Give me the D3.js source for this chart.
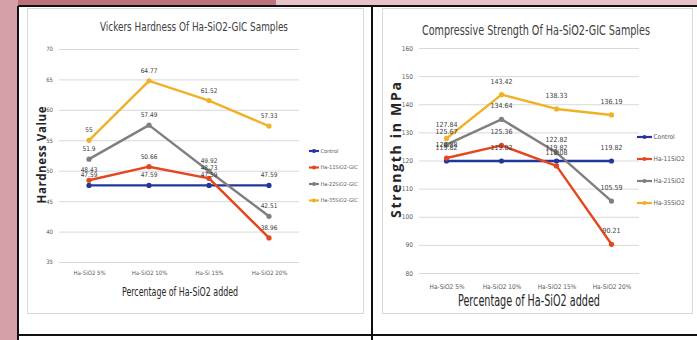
<!DOCTYPE html>
<html>
<head>
<meta charset="utf-8">
<script src="https://cdn.jsdelivr.net/npm/d3@7/dist/d3.min.js"></script>
<style>
  html, body { margin: 0; padding: 0; background: #ffffff; }
  svg { display: block; }
</style>
</head>
<body>
<svg id="page" width="697" height="340"></svg>
<script>
// ---- Data -------------------------------------------------------------
const hardnessCategories = ["Ha-SiO2 5%", "Ha-SiO2 10%", "Ha-Si 15%", "Ha-SiO2 20%"];
const hardnessTicks = [35, 40, 45, 50, 55, 60, 65, 70];
const hardnessSeriesNames = ["Control", "Ha-11SiO2-GIC", "Ha-22SiO2-GIC", "Ha-35SiO2-GIC"];
const hardnessControl = [47.59, 47.59, 47.59, 47.59];
const hardness11 = [48.43, 50.66, 48.73, 38.96];
const hardness22 = [51.9, 57.49, 49.92, 42.51];
const hardness35 = [55, 64.77, 61.52, 57.33];

const strengthCategories = ["Ha-SiO2 5%", "Ha-SiO2 10%", "Ha-SiO2 15%", "Ha-SiO2 20%"];
const strengthTicks = [80, 90, 100, 110, 120, 130, 140, 150, 160];
const strengthSeriesNames = ["Control", "Ha-11SiO2", "Ha-21SiO2", "Ha-35SiO2"];
const strengthControl = [119.82, 119.82, 119.82, 119.82];
const strength11 = [120.88, 125.36, 118.08, 90.21];
const strength21 = [125.67, 134.64, 122.82, 105.59];
const strength35 = [127.84, 143.42, 138.33, 136.19];

const seriesColors = ["#23379a", "#e5461d", "#7f7f7f", "#f0b126"];

const svg = d3.select("#page");
const condensed = "'Liberation Sans Narrow', 'DejaVu Sans Condensed', 'Arial Narrow', sans-serif";

// ---- Page background: pink margins and black table grid ---------------
svg.append("rect").attr("x", 0).attr("y", 0).attr("width", 697).attr("height", 340).attr("fill", "#ffffff");
svg.append("rect").attr("x", 0).attr("y", 0).attr("width", 697).attr("height", 6).attr("fill", "#e7c3c7");
svg.append("rect").attr("x", 0).attr("y", 0).attr("width", 276).attr("height", 5).attr("fill", "#be727b");
svg.append("rect").attr("x", 0).attr("y", 0).attr("width", 18).attr("height", 340).attr("fill", "#d6a1a6");

const gridLines = [
  [18, 6, 697, 6],
  [18, 6, 18, 340],
  [372, 6, 372, 340],
  [18, 335, 697, 335]
];
svg.selectAll("line.table").data(gridLines).join("line")
  .attr("class", "table")
  .attr("x1", d => d[0]).attr("y1", d => d[1])
  .attr("x2", d => d[2]).attr("y2", d => d[3])
  .attr("stroke", "#111").attr("stroke-width", 2);

// ---- Chart builder ----------------------------------------------------
function drawChart(opt) {
  const g = svg.append("g");

  // panel
  g.append("rect")
    .attr("x", opt.panel[0] + 0.5).attr("y", opt.panel[1] + 0.5)
    .attr("width", opt.panel[2]).attr("height", opt.panel[3])
    .attr("fill", "#ffffff").attr("stroke", "#d9d9d9").attr("stroke-width", 1);

  const x = d3.scalePoint().domain(opt.categories).range(opt.xRange).padding(0.5);
  const y = d3.scaleLinear().domain(d3.extent(opt.ticks)).range(opt.yRange);

  // gridlines + tick labels
  const yAxis = d3.axisLeft(y).tickValues(opt.ticks)
    .tickSize(-(opt.xRange[1] - opt.xRange[0])).tickPadding(6).tickFormat(d3.format("d"));
  const ya = g.append("g").attr("transform", `translate(${opt.xRange[0]},0)`).call(yAxis);
  ya.select(".domain").remove();
  ya.selectAll(".tick line").attr("stroke", "#d9d9d9").attr("stroke-width", 1);
  ya.selectAll(".tick text").attr("fill", "#595959")
    .style("font-family", condensed).style("font-size", opt.tickFont + "px");

  // category labels
  const xAxis = d3.axisBottom(x).tickSize(0).tickPadding(0);
  const xa = g.append("g").attr("transform", `translate(0,${opt.catY})`).call(xAxis);
  xa.select(".domain").remove();
  xa.selectAll(".tick text").attr("fill", "#595959").attr("dy", "0.32em")
    .style("font-family", condensed).style("font-size", opt.catFont + "px");

  const line = d3.line().x((d, i) => x(opt.categories[i])).y(d => y(d));

  // series lines and markers
  opt.series.forEach((s, k) => {
    g.append("path").datum(s.values)
      .attr("d", line).attr("fill", "none")
      .attr("stroke", seriesColors[k]).attr("stroke-width", 2.4)
      .attr("stroke-linejoin", "round");
    g.selectAll(null).data(s.values).join("circle")
      .attr("cx", (d, i) => x(opt.categories[i])).attr("cy", d => y(d))
      .attr("r", 2.6).attr("fill", seriesColors[k]);
  });

  // data labels
  opt.series.forEach((s) => {
    g.selectAll(null).data(s.values).join("text")
      .attr("x", (d, i) => x(opt.categories[i]))
      .attr("y", d => y(d) - opt.labelOffset)
      .attr("text-anchor", "middle")
      .attr("fill", "#404040")
      .style("font-family", condensed).style("font-size", opt.labelFont + "px")
      .text(d => String(d));
  });

  // title
  g.append("text")
    .attr("x", opt.title.x).attr("y", opt.title.y)
    .attr("text-anchor", "middle").attr("fill", "#404040")
    .attr("textLength", opt.title.len).attr("lengthAdjust", "spacingAndGlyphs")
    .style("font-family", condensed).style("font-size", opt.title.size + "px")
    .text(opt.title.text);

  // x axis title
  g.append("text")
    .attr("x", opt.xTitle.x).attr("y", opt.xTitle.y)
    .attr("text-anchor", "middle").attr("fill", "#262626")
    .attr("textLength", opt.xTitle.len).attr("lengthAdjust", "spacingAndGlyphs")
    .style("font-family", condensed).style("font-size", opt.xTitle.size + "px")
    .text(opt.xTitle.text);

  // y axis title
  g.append("text")
    .attr("transform", `translate(${opt.yTitle.x},${opt.yTitle.y}) rotate(-90)`)
    .attr("text-anchor", "middle").attr("fill", "#262626")
    .attr("textLength", opt.yTitle.len).attr("lengthAdjust", "spacing")
    .style("font-family", "'Open Sans', 'DejaVu Sans', sans-serif")
    .style("font-weight", 700)
    .style("font-size", opt.yTitle.size + "px")
    .text(opt.yTitle.text);

  // legend
  const lg = g.append("g");
  opt.series.forEach((s, k) => {
    const ly = opt.legend.y0 + k * opt.legend.step;
    lg.append("line")
      .attr("x1", opt.legend.x).attr("x2", opt.legend.x + opt.legend.w)
      .attr("y1", ly).attr("y2", ly)
      .attr("stroke", seriesColors[k]).attr("stroke-width", 2.2);
    lg.append("circle").attr("cx", opt.legend.x + opt.legend.w / 2).attr("cy", ly)
      .attr("r", 2).attr("fill", seriesColors[k]);
    lg.append("text")
      .attr("x", opt.legend.x + opt.legend.w + 1.5).attr("y", ly)
      .attr("dy", "0.35em").attr("fill", "#595959")
      .style("font-family", condensed).style("font-size", opt.legend.font + "px")
      .text(s.name);
  });
}

// ---- Vickers hardness -------------------------------------------------
drawChart({
  panel: [27, 8, 336, 305],
  categories: hardnessCategories,
  ticks: hardnessTicks,
  xRange: [59, 299],
  yRange: [262, 49],
  tickFont: 6,
  catFont: 6,
  catY: 273,
  labelFont: 6.5,
  labelOffset: 8,
  series: [
    { name: hardnessSeriesNames[0], values: hardnessControl },
    { name: hardnessSeriesNames[1], values: hardness11 },
    { name: hardnessSeriesNames[2], values: hardness22 },
    { name: hardnessSeriesNames[3], values: hardness35 }
  ],
  title: { text: "Vickers Hardness Of Ha-SiO2-GIC Samples", x: 194, y: 31, len: 188, size: 13 },
  xTitle: { text: "Percentage of Ha-SiO2 added", x: 180, y: 296, len: 116, size: 12.5 },
  yTitle: { text: "Hardness Value", x: 46, y: 155, len: 97, size: 11.5 },
  legend: { x: 309, w: 10, y0: 151, step: 16.5, font: 5.5 }
});

// ---- Compressive strength ---------------------------------------------
drawChart({
  panel: [382, 8, 310, 305],
  categories: strengthCategories,
  ticks: strengthTicks,
  xRange: [419, 639],
  yRange: [273, 48],
  tickFont: 6.5,
  catFont: 6.5,
  catY: 287,
  labelFont: 7,
  labelOffset: 11,
  series: [
    { name: strengthSeriesNames[0], values: strengthControl },
    { name: strengthSeriesNames[1], values: strength11 },
    { name: strengthSeriesNames[2], values: strength21 },
    { name: strengthSeriesNames[3], values: strength35 }
  ],
  title: { text: "Compressive Strength Of Ha-SiO2-GIC Samples", x: 536, y: 35, len: 228, size: 14.5 },
  xTitle: { text: "Percentage of Ha-SiO2 added", x: 529, y: 306, len: 142, size: 15 },
  yTitle: { text: "Strength in MPa", x: 401, y: 150, len: 136, size: 14 },
  legend: { x: 637, w: 15, y0: 137, step: 22, font: 6.5 }
});
</script>
</body>
</html>
